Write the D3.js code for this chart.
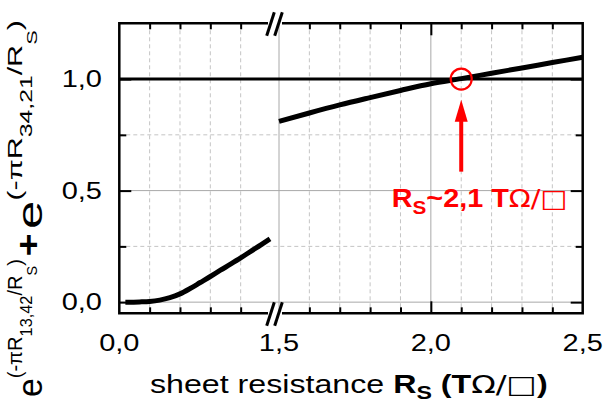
<!DOCTYPE html>
<html>
<head>
<meta charset="utf-8">
<script src="https://cdn.jsdelivr.net/npm/d3@7"></script>
<style>
body { margin: 0; background: #fff; }
svg { display: block; font-family: "Liberation Sans", Arial, sans-serif; }
.frame { stroke: #000; stroke-width: 2.5; fill: none; }
.tick line { stroke: #000; stroke-width: 2; }
.grid { stroke: #a8a8a8; stroke-width: 1; }
.grid-minor { stroke: #c4c4c4; stroke-width: 1; stroke-dasharray: 4,3; }
.curve { fill: none; stroke: #000; stroke-width: 5; stroke-linecap: butt; }
</style>
</head>
<body>
<svg width="604" height="407"></svg>
<script>
// left segment of the broken axis (0 .. 1.5)
var leftX = [0.06, 0.1, 0.2, 0.3, 0.4, 0.5, 0.6, 0.7, 0.8, 0.9, 1.0, 1.1, 1.2, 1.3, 1.4, 1.49];
var leftY = [0.000, 0.000, 0.001, 0.003, 0.009, 0.020, 0.037, 0.061, 0.088, 0.115, 0.143, 0.170, 0.198, 0.228, 0.257, 0.284];
// right segment (1.5 .. 2.5)
var rightX = [1.5, 1.6, 1.7, 1.8, 1.9, 2.0, 2.1, 2.2, 2.3, 2.4, 2.5];
var rightY = [0.810, 0.848, 0.884, 0.917, 0.949, 0.979, 1.002, 1.026, 1.050, 1.074, 1.098];

var leftMinorTicks = [0.3, 0.6, 0.9, 1.2];
var rightMinorTicks = [1.6, 1.7, 1.8, 1.9, 2.1, 2.2, 2.3, 2.4];
var rightMajorTicks = [1.5, 2.0];
var yMajorTicks = [0, 0.5, 1.0];
var yMinorTicks = [0.25, 0.75];
var xLabelsLeft = [0.0, 1.5];
var xLabelsRight = [2.0, 2.5];
var ySubs = ['13,42', '34,21'];

var marker = [2.1, 1.0];
var arrowTail = 0.585, arrowTip = 0.907;

window.onload = function () {
var svg = d3.select('svg');
var fmt = d3.formatLocale({decimal: ",", thousands: ".", grouping: [3], currency: ["", ""]}).format(".1f");

var left = 119.3, right = 582.7, top = 23.3, bottom = 313.3;
var xL = d3.scaleLinear().domain([0, 1.5]).range([left, 271]);
var xR = d3.scaleLinear().domain([1.5, 2.5]).range([279, right]);
var y = d3.scaleLinear().domain([-0.05, 1.25]).range([bottom, top]);
var stretch = 1.26;

// grid
var grid = svg.append('g');
grid.selectAll('.gxl').data(leftMinorTicks).enter().append('line')
  .attr('class', 'grid-minor')
  .attr('x1', function (d) { return xL(d); }).attr('x2', function (d) { return xL(d); })
  .attr('y1', top).attr('y2', bottom);
grid.selectAll('.gxr').data(rightMinorTicks).enter().append('line')
  .attr('class', 'grid-minor')
  .attr('x1', function (d) { return xR(d); }).attr('x2', function (d) { return xR(d); })
  .attr('y1', top).attr('y2', bottom);
grid.selectAll('.gxm').data(rightMajorTicks).enter().append('line')
  .attr('class', 'grid')
  .attr('x1', function (d) { return xR(d); }).attr('x2', function (d) { return xR(d); })
  .attr('y1', top).attr('y2', bottom);
grid.selectAll('.gym').data(yMinorTicks).enter().append('line')
  .attr('class', 'grid-minor')
  .attr('x1', left).attr('x2', right)
  .attr('y1', function (d) { return y(d); }).attr('y2', function (d) { return y(d); });
grid.selectAll('.gyM').data(yMajorTicks).enter().append('line')
  .attr('class', 'grid')
  .attr('x1', left).attr('x2', right)
  .attr('y1', function (d) { return y(d); }).attr('y2', function (d) { return y(d); });

// reference line at 1
svg.append('line')
  .attr('x1', left).attr('x2', right)
  .attr('y1', y(1)).attr('y2', y(1))
  .attr('stroke', '#000').attr('stroke-width', 3);

// ticks, pointing inward
function ticks(axis, scale, vals, size, transform) {
  svg.append('g')
    .attr('transform', transform)
    .call(axis(scale).tickValues(vals).tickSize(size).tickFormat(''))
    .call(function (g) { g.select('.domain').remove(); });
}
ticks(d3.axisBottom, xL, leftMinorTicks, -6, 'translate(0,' + bottom + ')');
ticks(d3.axisTop, xL, leftMinorTicks, -6, 'translate(0,' + top + ')');
ticks(d3.axisBottom, xR, rightMinorTicks, -6, 'translate(0,' + bottom + ')');
ticks(d3.axisTop, xR, rightMinorTicks, -6, 'translate(0,' + top + ')');
ticks(d3.axisBottom, xR, [2.0], -12, 'translate(0,' + bottom + ')');
ticks(d3.axisTop, xR, [2.0], -12, 'translate(0,' + top + ')');
ticks(d3.axisLeft, y, yMajorTicks, -12, 'translate(' + left + ',0)');
ticks(d3.axisLeft, y, yMinorTicks, -7, 'translate(' + left + ',0)');
ticks(d3.axisRight, y, yMajorTicks, -12, 'translate(' + right + ',0)');
ticks(d3.axisRight, y, yMinorTicks, -7, 'translate(' + right + ',0)');

// curves
var lineL = d3.line().x(function (d) { return xL(d[0]); }).y(function (d) { return y(d[1]); }).curve(d3.curveMonotoneX);
var lineR = d3.line().x(function (d) { return xR(d[0]); }).y(function (d) { return y(d[1]); }).curve(d3.curveMonotoneX);
svg.append('path').attr('class', 'curve').attr('d', lineL(d3.zip(leftX, leftY)));
svg.append('path').attr('class', 'curve').attr('d', lineR(d3.zip(rightX, rightY)));

// frame with axis break
var gapA = 268, gapB = 282;
svg.append('path').attr('class', 'frame')
  .attr('d', 'M' + gapA + ',' + top + 'H' + left + 'V' + bottom + 'H' + gapA);
svg.append('path').attr('class', 'frame')
  .attr('d', 'M' + gapB + ',' + top + 'H' + right + 'V' + bottom + 'H' + gapB);
[top, bottom].forEach(function (yy) {
  [266.7, 274.7].forEach(function (x0) {
    svg.append('line')
      .attr('x1', x0).attr('y1', yy + 12.5)
      .attr('x2', x0 + 7.6).attr('y2', yy - 11)
      .attr('stroke', '#000').attr('stroke-width', 3);
  });
});

// annotation
var red = '#ff0000';
svg.append('circle')
  .attr('cx', xR(marker[0])).attr('cy', y(marker[1])).attr('r', 10.5)
  .attr('fill', 'none').attr('stroke', red).attr('stroke-width', 2.2);
var ax = xR(marker[0]);
svg.append('line')
  .attr('x1', ax).attr('x2', ax)
  .attr('y1', y(arrowTail)).attr('y2', y(arrowTip) + 18)
  .attr('stroke', red).attr('stroke-width', 4);
svg.append('path')
  .attr('d', 'M' + ax + ',' + y(arrowTip) + 'L' + (ax + 6.5) + ',' + (y(arrowTip) + 22) + 'L' + (ax - 6.5) + ',' + (y(arrowTip) + 22) + 'Z')
  .attr('fill', red);

// text helpers
function label(x, yy, rot, k) {
  return svg.append('g').attr('transform', 'translate(' + x + ',' + yy + ') rotate(' + rot + ') scale(' + k + ',1)')
    .append('text');
}
function fit(text, w) {
  var k = w / text.node().getComputedTextLength();
  var g = d3.select(text.node().parentNode);
  g.attr('transform', g.attr('transform').replace(/scale\([^)]*\)/, 'scale(' + k + ',1)'));
}
function part(text, s, size, opts) {
  opts = opts || {};
  return text.append('tspan').text(s)
    .attr('font-size', size)
    .attr('font-weight', opts.bold ? 'bold' : 'normal')
    .attr('dy', opts.dy || 0)
    .attr('font-family', opts.sym ? '"DejaVu Sans", "Liberation Sans", sans-serif' : null);
}

// tick labels
yMajorTicks.forEach(function (v) {
  label(102, y(v) + 8, 0, stretch).attr('text-anchor', 'end').attr('font-size', 23).text(fmt(v));
});
xLabelsLeft.forEach(function (v) {
  var px = v === 1.5 ? xR(v) : xL(v);
  label(px, 351, 0, stretch).attr('text-anchor', 'middle').attr('font-size', 23).text(fmt(v));
});
xLabelsRight.forEach(function (v) {
  label(xR(v), 351, 0, stretch).attr('text-anchor', 'middle').attr('font-size', 23).text(fmt(v));
});

// x title
var xt = label(150, 393, 0, 1);
part(xt, 'sheet resistance ', 25);
part(xt, 'R', 25, {bold: true});
part(xt, 'S', 18, {bold: true, dy: 6});
part(xt, ' (T', 25, {bold: true, dy: -6});
part(xt, 'Ω/□', 25, {sym: true});
part(xt, ')', 25, {bold: true});
fit(xt, 398);

// y title: two exponential terms joined by a plus
var termStart = [397, 229], termLen = [138, 209];
ySubs.forEach(function (sub, i) {
  var t = label(42, termStart[i], -90, 1);
  part(t, 'e', 35);
  part(t, '(-πR', 21, {dy: -20});
  part(t, sub, 17, {dy: 10});
  part(t, '/R', 21, {dy: -10});
  part(t, 'S', 15, {dy: 15});
  part(t, ')', 21, {dy: -15});
  fit(t, termLen[i]);
});
label(40, 245, -90, 1.2).attr('text-anchor', 'middle').attr('font-size', 33).attr('font-weight', 'bold').text('+');

// red label
var rl = label(391.7, 206.7, 0, 1).attr('fill', red);
part(rl, 'R', 25, {bold: true});
part(rl, 'S', 18, {bold: true, dy: 7});
part(rl, '~2,1 T', 25, {bold: true, dy: -7});
part(rl, 'Ω/□', 25, {sym: true});
fit(rl, 176);
};
</script>
</body>
</html>
